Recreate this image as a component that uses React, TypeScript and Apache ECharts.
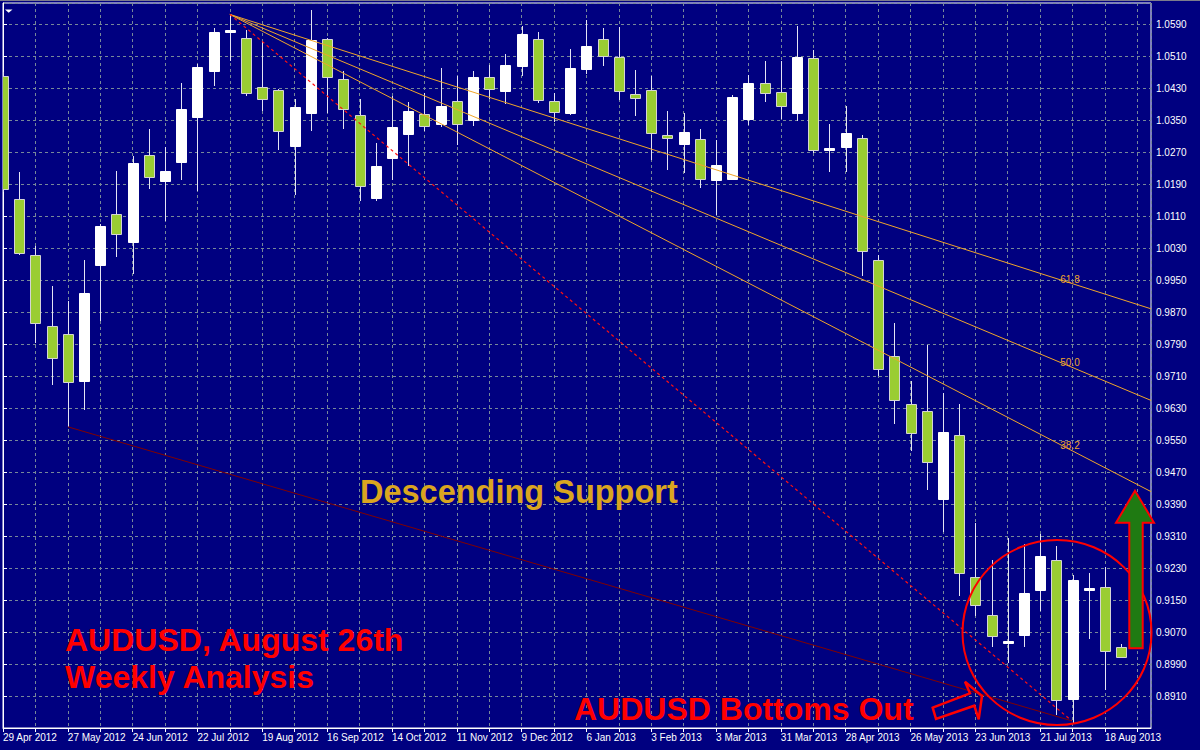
import React, { useEffect, useRef } from 'react';
import * as echarts from 'echarts';

// Tick labels every 4 weeks (index 0, 4, 8, ...)
const weekLabels = [
  '29 Apr 2012', '27 May 2012', '24 Jun 2012', '22 Jul 2012', '19 Aug 2012', '16 Sep 2012',
  '14 Oct 2012', '11 Nov 2012', '9 Dec 2012', '6 Jan 2013', '3 Feb 2013', '3 Mar 2013',
  '31 Mar 2013', '28 Apr 2013', '26 May 2013', '23 Jun 2013', '21 Jul 2013', '18 Aug 2013',
];

// Weekly AUDUSD bars, one per week starting 29 Apr 2012
const opens = [
  1.0461, 1.0153, 1.0013, 0.9836, 0.9814, 0.9698, 0.9986, 1.0116, 1.0045, 1.0263,
  1.0198, 1.0245, 1.0359, 1.0474, 1.0572, 1.0555, 1.0433, 1.0425, 1.0285, 1.0369,
  1.0553, 1.0453, 1.0363, 1.0155, 1.0255, 1.0315, 1.0366, 1.0340, 1.0398, 1.0351,
  1.0458, 1.0424, 1.0487, 1.0553, 1.0397, 1.0368, 1.0478, 1.0553, 1.0508, 1.0415,
  1.0425, 1.0313, 1.0290, 1.0303, 1.0201, 1.0203, 1.0353, 1.0443, 1.0419, 1.0368,
  1.0504, 1.0278, 1.0283, 1.0305, 1.0001, 0.9759, 0.9640, 0.9622, 0.9401, 0.9563,
  0.9208, 0.9113, 0.9045, 0.9064, 0.9174, 0.9250, 0.8903, 0.9178, 0.9183, 0.9033,
];
const closes = [
  1.0178, 1.0018, 0.9843, 0.9757, 0.9693, 0.9918, 1.0084, 1.0065, 1.0242, 1.0209,
  1.0223, 1.0378, 1.0483, 1.0571, 1.0574, 1.0418, 1.0403, 1.0323, 1.0383, 1.0551,
  1.0458, 1.0378, 1.0186, 1.0234, 1.0332, 1.0373, 1.0336, 1.0386, 1.0341, 1.0458,
  1.0428, 1.0488, 1.0566, 1.0401, 1.0370, 1.0480, 1.0536, 1.0511, 1.0423, 1.0405,
  1.0318, 1.0305, 1.0321, 1.0203, 1.0238, 1.0408, 1.0443, 1.0418, 1.0383, 1.0508,
  1.0275, 1.0280, 1.0318, 1.0023, 0.9728, 0.9648, 0.9568, 0.9494, 0.9569, 0.9218,
  0.9138, 0.9060, 0.9047, 0.9168, 0.9259, 0.8899, 0.9201, 0.9181, 0.9022, 0.9009,
];
const lows = [
  1.0170, 1.0013, 0.9793, 0.9688, 0.9583, 0.9626, 0.9847, 1.0008, 0.9965, 1.0178,
  1.0097, 1.0201, 1.0173, 1.0434, 1.0497, 1.0409, 1.0373, 1.0274, 1.0163, 1.0322,
  1.0368, 1.0328, 1.0147, 1.0147, 1.0199, 1.0234, 1.0323, 1.0332, 1.0287, 1.0336,
  1.0403, 1.0391, 1.0459, 1.0393, 1.0344, 1.0363, 1.0466, 1.0484, 1.0401, 1.0359,
  1.0251, 1.0224, 1.0218, 1.0180, 1.0113, 1.0201, 1.0338, 1.0394, 1.0353, 1.0347,
  1.0268, 1.0220, 1.0219, 0.9959, 0.9709, 0.9591, 0.9523, 0.9426, 0.9320, 0.9159,
  0.9109, 0.9032, 0.8993, 0.9032, 0.9123, 0.8863, 0.8843, 0.9053, 0.8926, 0.9006,
];
const highs = [
  1.0470, 1.0219, 1.0034, 0.9934, 0.9897, 1.0001, 1.0090, 1.0223, 1.0259, 1.0328,
  1.0282, 1.0443, 1.0490, 1.0581, 1.0614, 1.0576, 1.0548, 1.0427, 1.0403, 1.0626,
  1.0555, 1.0473, 1.0403, 1.0293, 1.0409, 1.0395, 1.0418, 1.0480, 1.0459, 1.0472,
  1.0488, 1.0515, 1.0586, 1.0570, 1.0418, 1.0528, 1.0601, 1.0580, 1.0582, 1.0476,
  1.0459, 1.0373, 1.0368, 1.0328, 1.0301, 1.0413, 1.0463, 1.0498, 1.0498, 1.0584,
  1.0526, 1.0341, 1.0386, 1.0313, 1.0013, 0.9843, 0.9697, 0.9788, 0.9668, 0.9640,
  0.9343, 0.9251, 0.9305, 0.9290, 0.9315, 0.9286, 0.9213, 0.9218, 0.9233, 0.9041,
];

// Annotation anchors in (week index, price)
const fanOrigin = [14, 1.0614];
const fanEnds = [[70.84, 0.9878], [70.84, 0.9649], [70.84, 0.9421]];
const fanLevels = ['61.8', '50.0', '38.2'];
const fanLabelPos = [[65.84, 0.99525], [65.84, 0.9745], [65.84, 0.95375]];
const trendLine = [[14, 1.0614], [65.95, 0.8848]];
const supportLine = [[4, 0.9583], [65.95, 0.8848]];

const X_MAX = 70.84;
const Y_MIN = 0.883;
const Y_MAX = 1.06425;

export default function App() {
  const ref = useRef<HTMLDivElement>(null);

  useEffect(() => {
    if (!ref.current) return;
    const chart = echarts.init(ref.current, undefined, { renderer: 'svg' });
    const rows = opens.map((o, i) => [i, o, closes[i], lows[i], highs[i]]);
    const gridLine = { show: true, lineStyle: { color: '#778899', width: 1, type: [3, 3] as any } };
    const fanSeries = fanEnds.map((end) => ({
      type: 'line',
      data: [fanOrigin, end],
      symbol: 'none',
      silent: true,
      z: 5,
      lineStyle: { color: '#f0a52a', width: 1 },
    }));

    chart.setOption({
      animation: false,
      backgroundColor: '#000080',
      grid: { left: 2, right: 49, top: 3, bottom: 22, show: true, borderColor: '#ffffff', borderWidth: 1 },
      xAxis: {
        type: 'value',
        min: 0,
        max: X_MAX,
        interval: 2,
        axisLine: { show: true, lineStyle: { color: '#ffffff' } },
        axisTick: { show: true, length: 4, lineStyle: { color: '#ffffff' } },
        axisLabel: {
          color: '#ffffff',
          fontSize: 10,
          fontFamily: 'Liberation Sans',
          align: 'left',
          margin: 4,
          showMaxLabel: false,
          formatter: (v: number) => {
            const k = Math.round(v);
            if (k % 4 !== 0) return '';
            return weekLabels[k / 4] ?? '';
          },
        },
        splitLine: gridLine,
      },
      yAxis: {
        type: 'value',
        position: 'right',
        min: Y_MIN,
        max: Y_MAX,
        interval: 0.008,
        axisLine: { show: true, lineStyle: { color: '#ffffff' } },
        axisTick: { show: true, length: 4, lineStyle: { color: '#ffffff' } },
        axisLabel: {
          color: '#ffffff',
          fontSize: 10,
          fontFamily: 'Liberation Sans',
          margin: 5,
          showMinLabel: false,
          showMaxLabel: false,
          formatter: (v: number) => v.toFixed(4),
        },
        splitLine: gridLine,
      },
      series: [
        {
          type: 'custom',
          clip: true,
          z: 3,
          data: rows,
          encode: { x: 0, y: [1, 2, 3, 4] },
          renderItem: (params: any, api: any) => {
            const i = api.value(0);
            const o = api.value(1);
            const c = api.value(2);
            const l = api.value(3);
            const h = api.value(4);
            const pO = api.coord([i, o]);
            const pC = api.coord([i, c]);
            const pL = api.coord([i, l]);
            const pH = api.coord([i, h]);
            const xc = Math.round(pO[0]) + 0.5;
            const bull = c >= o;
            const top = Math.round(Math.min(pO[1], pC[1]));
            let hgt = Math.round(Math.abs(pO[1] - pC[1]));
            if (hgt < 2) hgt = 2;
            const w = 10;
            return {
              type: 'group',
              children: [
                {
                  type: 'line',
                  shape: { x1: xc, y1: Math.round(pH[1]), x2: xc, y2: Math.round(pL[1]) },
                  style: { stroke: '#e4e4f4', lineWidth: 1 },
                },
                {
                  type: 'rect',
                  shape: { x: xc - w / 2, y: top + 0.5, width: w, height: hgt },
                  style: {
                    fill: bull ? '#ffffff' : '#9acd32',
                    stroke: bull ? '#ffffff' : '#d4d4d4',
                    lineWidth: 1,
                  },
                },
              ],
            };
          },
        },
        ...fanSeries,
        {
          type: 'line',
          data: trendLine,
          symbol: 'none',
          silent: true,
          z: 5,
          lineStyle: { color: '#ff1010', width: 1.2, type: [3, 3] },
        },
        {
          type: 'line',
          data: supportLine,
          symbol: 'none',
          silent: true,
          z: 5,
          lineStyle: { color: '#800000', width: 1 },
        },
        {
          type: 'scatter',
          data: fanLabelPos,
          symbolSize: 0,
          silent: true,
          z: 6,
          itemStyle: { opacity: 1, color: '#f0a52a' },
          label: {
            show: true,
            position: 'inside',
            color: '#f0a52a',
            fontSize: 10,
            fontFamily: 'Liberation Sans',
            textBorderWidth: 0,
            textBorderColor: 'transparent',
            opacity: 1,
            formatter: (p: any) => fanLevels[p.dataIndex],
          },
        },
      ],
      graphic: [
        { type: 'rect', shape: { x: 0, y: 0, width: 1200, height: 1 }, style: { fill: '#7c7c8c' } },
        { type: 'polygon', shape: { points: [[5, 9.5], [12.5, 9.5], [8.7, 12.8]] }, style: { fill: '#ffffff' } },
        {
          type: 'text', x: 360, y: 491.5, z: 10,
          style: { text: 'Descending Support', fill: '#daa520', fontSize: 32.5, fontWeight: 'bold', fontFamily: 'Liberation Sans', verticalAlign: 'middle' },
        },
        {
          type: 'text', x: 65, y: 640, z: 10,
          style: { text: 'AUDUSD, August 26th', fill: '#ff0000', fontSize: 32, fontWeight: 'bold', fontFamily: 'Liberation Sans', verticalAlign: 'middle' },
        },
        {
          type: 'text', x: 65, y: 677, z: 10,
          style: { text: 'Weekly Analysis', fill: '#ff0000', fontSize: 32, fontWeight: 'bold', fontFamily: 'Liberation Sans', verticalAlign: 'middle' },
        },
        {
          type: 'text', x: 574, y: 709, z: 10,
          style: { text: 'AUDUSD Bottoms Out', fill: '#ff0000', fontSize: 32, fontWeight: 'bold', fontFamily: 'Liberation Sans', verticalAlign: 'middle' },
        },
        {
          type: 'ellipse', z: 10,
          shape: { cx: 1057, cy: 632.5, rx: 94.5, ry: 92.5 },
          style: { fill: 'none', stroke: '#ff0000', lineWidth: 2 },
        },
        {
          type: 'polygon', z: 10,
          shape: { points: [[932.7, 707.7], [970, 693.3], [965, 681.7], [982, 696], [978.7, 719.3], [974.3, 705.7], [936, 719]] },
          style: { fill: 'none', stroke: '#ff0000', lineWidth: 2.5 },
        },
        {
          type: 'polygon', z: 11,
          shape: { points: [[1135, 490.7], [1154, 522.7], [1142.7, 522.7], [1142.7, 648.3], [1129.3, 648.3], [1129.3, 522.7], [1116, 522.7]] },
          style: { fill: '#1f7a12', stroke: '#ff0000', lineWidth: 2 },
        },
      ],
    });
    return () => chart.dispose();
  }, []);

  return (
    <div
      ref={ref}
      style={{ position: 'fixed', left: 0, top: 0, width: 1200, height: 750, background: '#000080' }}
    />
  );
}
